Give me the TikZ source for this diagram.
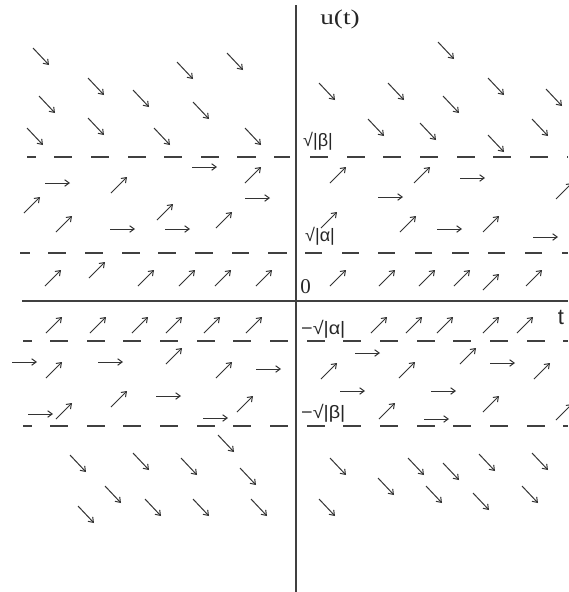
\documentclass[tikz,border=0pt]{standalone}
\usepackage{fontspec}
\setmainfont{Liberation Serif}
\newfontfamily\lsans{Liberation Sans}
\usetikzlibrary{arrows.meta}
\begin{document}
\begin{tikzpicture}[x=1pt,y=-1pt,
  arr/.style={draw=black!80, line width=1pt, -{Straight Barb[length=4.5pt,width=6.5pt]}},
  dsh/.style={draw=black!75, line width=1.5pt},
  axisline/.style={draw=black!75, line width=1.8pt},
  lab/.style={inner sep=0pt, anchor=west, font=\lsans\fontsize{18}{18}\selectfont, text=black!85},
  serlab/.style={inner sep=0pt, text=black!85}]
\useasboundingbox (0,0) rectangle (568,592);
\fill[white] (0,0) rectangle (568,592);
% axes
\coordinate (vtop) at (296,5);
\coordinate (vbot) at (296,592);
\coordinate (hl) at (22,301);
\coordinate (hr) at (568,301);
\draw[axisline] (vtop) -- (vbot);
\draw[axisline] (hl) -- (hr);
% dashed levels
\foreach \a/\b in {27/36,54/72,91/109,128/146,164/182,201/219,237/256,274/290,310/328,347/365,383/401,420/438,457/475,493/511,530/548,567/568}
  \draw[dsh] (\a,157) -- (\b,157);
\foreach \a/\b in {20/30,48/66,85/103,122/140,158/176,195/213,232/249,268/287,305/322,342/359,378/395,415/432,452/469,488/505,525/542,562/568}
  \draw[dsh] (\a,253) -- (\b,253);
\foreach \yy in {341,426}
  \foreach \a/\b in {23/32,50/68,87/105,123/141,160/178,197/215,233/251,270/288,307/325,343/361,380/398,417/435,453/471,490/508,527/545,563/568}
    \draw[dsh] (\a,\yy) -- (\b,\yy);
% down-right arrows
\foreach \x/\y in {33/48,177/62,227/53,88/78,39/96,133/90,193/102,88/118,27/128,154/128,245/128,
  438/42,319/83,388/83,488/78,443/96,546/89,368/119,420/123,532/119,488/135,
  218/435,70/455,133/453,181/458,240/468,105/486,78/506,145/499,193/499,251/499,
  330/458,408/458,443/463,479/454,532/453,378/478,426/486,473/493,522/486,319/499}
  \draw[arr] (\x,\y) -- ++(16,17);
% up-right arrows
\foreach \x/\y in {245/183,111/193,24/213,157/220,56/232,216/228,
  45/286,89/278,138/286,179/286,215/286,256/286,
  330/183,414/183,556/199,321/228,400/232,483/232,
  330/286,379/286,419/286,454/286,483/290,526/286,
  46/333,90/333,132/333,166/333,204/333,246/333,
  46/378,166/364,216/378,111/407,56/419,237/412,
  371/333,406/333,437/333,483/333,517/333,
  321/379,399/378,460/364,534/379,379/419,483/412,556/420}
  \draw[arr] (\x,\y) -- ++(16,-16);
% right arrows
\foreach \x/\y in {192/167,45/183,245/198,110/229,165/229,
  460/178,378/197,437/229,533/237,
  12/362,98/362,256/369,156/396,28/414,203/418,
  355/353,490/363,340/391,431/391,424/419}
  \draw[arr] (\x,\y) -- ++(25,0);
% labels
\node[serlab, font=\fontsize{21}{21}\selectfont] (ut) at (340,19) {\scalebox{1.3}[1]{u(t)}};
\node[lab] (sb) at (303,141) {√|β|};
\node[lab] (sa) at (305,236) {√|α|};
\node[serlab, font=\fontsize{21}{21}\selectfont] (zero) at (305.5,287) {0};
\node[serlab, font=\lsans\fontsize{22}{22}\selectfont] (tlab) at (561,317) {t};
\node[lab] (msa) at (301,329) {\scalebox{1.1}[1]{−√|α|}};
\node[lab] (msb) at (301,413) {\scalebox{1.1}[1]{−√|β|}};
\end{tikzpicture}
\end{document}
